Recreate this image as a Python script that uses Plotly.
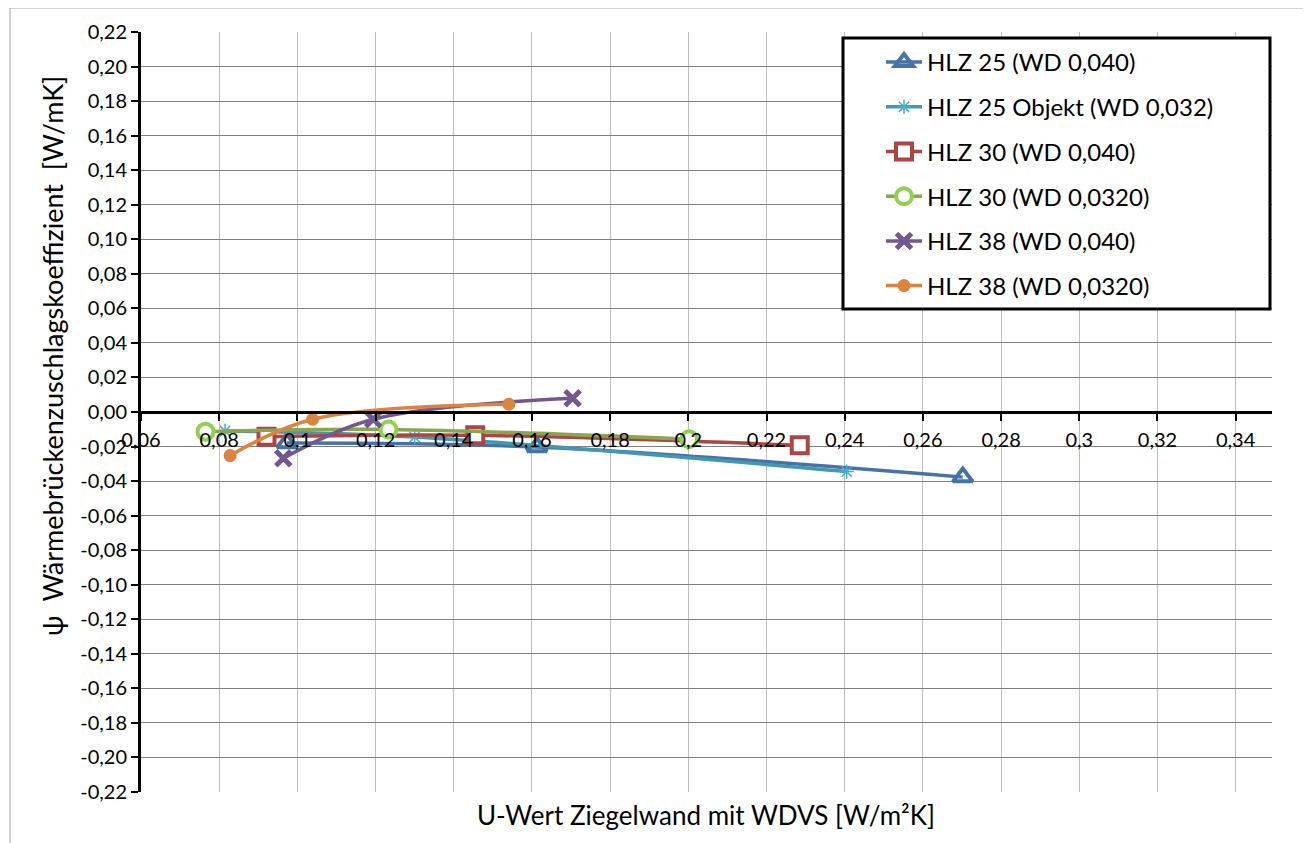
import plotly.graph_objects as go

# ---- data ----
hlz25_040_x = [0.0973, 0.1613, 0.2702]
hlz25_040_y = [-0.018, -0.0203, -0.0377]

hlz25obj_032_x = [0.0815, 0.130, 0.2405]
hlz25obj_032_y = [-0.011, -0.0145, -0.0345]

hlz30_040_x = [0.0921, 0.1455, 0.2285]
hlz30_040_y = [-0.0143, -0.0135, -0.0193]

hlz30_032_x = [0.0765, 0.1233, 0.2002]
hlz30_032_y = [-0.0114, -0.0101, -0.0158]

hlz38_040_x = [0.0964, 0.1194, 0.1704]
hlz38_040_y = [-0.0268, -0.0042, 0.0079]

hlz38_032_x = [0.0828, 0.1039, 0.1541]
hlz38_032_y = [-0.0252, -0.0042, 0.0045]

x_tickvals = [0.06, 0.08, 0.10, 0.12, 0.14, 0.16, 0.18, 0.20, 0.22, 0.24, 0.26, 0.28, 0.30, 0.32, 0.34]
x_ticktext = ["0,06", "0,08", "0,1", "0,12", "0,14", "0,16", "0,18", "0,2", "0,22", "0,24", "0,26", "0,28", "0,3", "0,32", "0,34"]
y_tickvals = [-0.22, -0.20, -0.18, -0.16, -0.14, -0.12, -0.10, -0.08, -0.06, -0.04, -0.02,
              0.00, 0.02, 0.04, 0.06, 0.08, 0.10, 0.12, 0.14, 0.16, 0.18, 0.20, 0.22]
y_ticktext = ["-0,22", "-0,20", "-0,18", "-0,16", "-0,14", "-0,12", "-0,10", "-0,08", "-0,06", "-0,04", "-0,02",
              "0,00", "0,02", "0,04", "0,06", "0,08", "0,10", "0,12", "0,14", "0,16", "0,18", "0,20", "0,22"]

FONT = "Lato"
OFF = 8  # page body margin
W, H = 1311 - OFF, 843 - OFF
# plot area in page pixels
PL, PR, PT, PB = 141, 1272, 32, 792
L, R, T, B = PL - OFF, PR - OFF, PT - OFF, PB - OFF


def px_x(p):
    return (p - PL) / (PR - PL)


def px_y(p):
    return (PB - p) / (PB - PT)


fig = go.Figure()

series = [
    ("HLZ 25 (WD 0,040)", hlz25_040_x, hlz25_040_y, "#4572A7",
     dict(symbol="triangle-up-open", size=17, color="#4572A7", line=dict(width=4, color="#4572A7"))),
    ("HLZ 25 Objekt (WD 0,032)", hlz25obj_032_x, hlz25obj_032_y, "#4198AF",
     dict(symbol="asterisk-open", size=12, color="#4BACC6", line=dict(width=1.5, color="#4BACC6"))),
    ("HLZ 30 (WD 0,040)", hlz30_040_x, hlz30_040_y, "#AA4643",
     dict(symbol="square", size=16, color="white", line=dict(width=4, color="#AA4643"))),
    ("HLZ 30 (WD 0,0320)", hlz30_032_x, hlz30_032_y, "#89A54E",
     dict(symbol="circle", size=16, color="white", line=dict(width=4, color="#92D050"))),
    ("HLZ 38 (WD 0,040)", hlz38_040_x, hlz38_040_y, "#71588F",
     dict(symbol="x-thin-open", size=15, color="#71588F", line=dict(width=5, color="#71588F"))),
    ("HLZ 38 (WD 0,0320)", hlz38_032_x, hlz38_032_y, "#DB843D",
     dict(symbol="circle", size=13, color="#DB843D", line=dict(width=0, color="#DB843D"))),
]

for i, (name, xs, ys, lc, mk) in enumerate(series):
    fig.add_trace(go.Scatter(
        x=xs, y=ys, name=name, mode="lines+markers",
        line=dict(color=lc, width=3.5, shape="spline", smoothing=1.0),
        marker=mk, legendgroup=f"g{i}",
    ))

fig.update_layout(
    width=W, height=H,
    margin=dict(l=L, r=W - R, t=T, b=H - B, autoexpand=False),
    paper_bgcolor="white", plot_bgcolor="white",
    separators=",.",
    font=dict(family=FONT, size=20, color="black"),
    showlegend=True,
    legend=dict(
        x=px_x(881), y=px_y(40), xanchor="left", yanchor="top",
        bgcolor="rgba(0,0,0,0)", borderwidth=0,
        font=dict(family=FONT, size=24, color="black"),
        tracegroupgap=10.5, itemwidth=36,
    ),
    xaxis=dict(
        range=[0.06, 0.3493], tickvals=x_tickvals, ticktext=x_ticktext,
        anchor="free", position=0.5, automargin=False,
        showline=True, linecolor="black", linewidth=3,
        ticks="outside", ticklen=7, tickwidth=2, tickcolor="black",
        ticklabelstandoff=2,
        showgrid=True, gridcolor="#BFBFBF", gridwidth=1,
        zeroline=False,
        tickfont=dict(family=FONT, size=20, color="black"),
    ),
    yaxis=dict(
        range=[-0.22, 0.22], tickvals=y_tickvals, ticktext=y_ticktext,
        automargin=False,
        showline=True, linecolor="black", linewidth=3,
        ticks="outside", ticklen=7, tickwidth=2, tickcolor="black",
        showgrid=True, gridcolor="#7F7F7F", gridwidth=1,
        zeroline=False,
        tickfont=dict(family=FONT, size=20, color="black"),
    ),
    annotations=[
        dict(text="U-Wert Ziegelwand mit WDVS [W/m²K]", xref="paper", yref="paper",
             x=px_x(706), y=px_y(815), xanchor="center", yanchor="middle", showarrow=False,
             font=dict(family=FONT, size=26, color="black")),
        dict(text="ψ  Wärmebrückenzuschlagskoeffizient  [W/mK]", xref="paper", yref="paper",
             x=px_x(52), y=px_y(356), xanchor="center", yanchor="middle", showarrow=False,
             textangle=-90, font=dict(family=FONT, size=27, color="black")),
    ],
    shapes=[
        dict(type="rect", xref="paper", yref="paper",
             x0=px_x(10), x1=px_x(1340), y0=px_y(860), y1=px_y(8),
             line=dict(color="#A6A6A6", width=1), fillcolor="rgba(0,0,0,0)", layer="below"),
        dict(type="rect", xref="paper", yref="paper",
             x0=px_x(843), x1=px_x(1270), y0=px_y(309), y1=px_y(38),
             line=dict(color="black", width=3), fillcolor="white", layer="above"),
    ],
)

fig.write_html("out.html")
